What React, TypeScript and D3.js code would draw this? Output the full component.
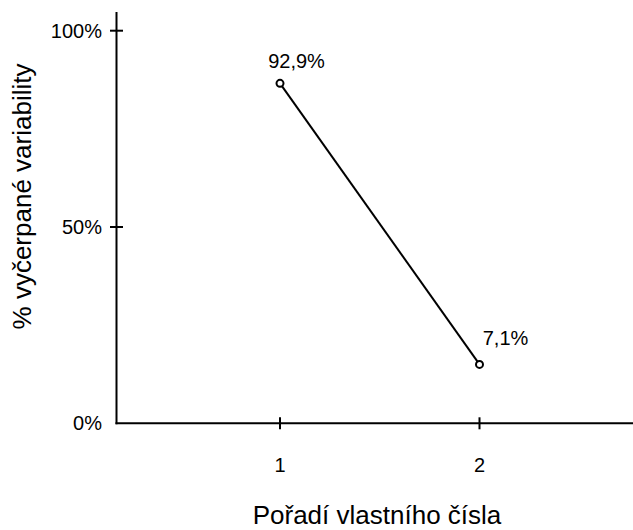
import React from 'react'
import * as d3 from 'd3'

// eigenvalue order, plotted share and printed labels
const components = [1, 2]
const plotted = [86.6, 15.0]
const pointLabels = ['92,9%', '7,1%']
const yTicks = [0, 50, 100]
const yTickLabels = ['0%', '50%', '100%']

const W = 633
const H = 530
const font = 'Liberation Sans, Arial, sans-serif'

// label nudges relative to each point
const labelDx = [16.5, 26]
const labelDy = [-15, -19]

const App = () => {
    const x = d3.scaleLinear().domain([1, 2]).range([280, 479.5])
    const y = d3.scaleLinear().domain([0, 100]).range([423.3, 30.7])
    const axisX = 116.5

    const line = d3
        .line<number>()
        .x((d, i) => x(components[i]))
        .y(d => y(d))

    return (
        <div style={{ position: 'absolute', left: 0, top: 0 }}>
            <svg width={W} height={H} style={{ display: 'block' }} fontFamily={font}>
                {/* axes */}
                <line x1={axisX} x2={axisX} y1={12} y2={y(0) + 1} stroke='#000' strokeWidth={2} />
                <line x1={axisX - 1} x2={W} y1={y(0)} y2={y(0)} stroke='#000' strokeWidth={2} />
                {yTicks.map((t, i) => (
                    <g key={t}>
                        {t > 0 && (
                            <line x1={axisX - 6.5} x2={axisX + 6.5} y1={y(t)} y2={y(t)} stroke='#000' strokeWidth={2} />
                        )}
                        <text x={102} y={y(t) + 7} textAnchor='end' fontSize={20} fill='#000'>
                            {yTickLabels[i]}
                        </text>
                    </g>
                ))}
                {components.map(c => (
                    <g key={c}>
                        <line x1={x(c)} x2={x(c)} y1={y(0) - 6} y2={y(0) + 6} stroke='#000' strokeWidth={2} />
                        <text x={x(c)} y={472} textAnchor='middle' fontSize={20} fill='#000'>
                            {c}
                        </text>
                    </g>
                ))}

                {/* titles */}
                <text
                    transform={`translate(31, 196.5) rotate(-90)`}
                    textAnchor='middle'
                    fontSize={26}
                    fill='#000'
                >
                    % vyčerpané variability
                </text>
                <text x={377} y={524} textAnchor='middle' fontSize={26} fill='#000'>
                    Pořadí vlastního čísla
                </text>

                {/* series */}
                <path d={line(plotted) || ''} fill='none' stroke='#000' strokeWidth={2} />
                {plotted.map((v, i) => (
                    <g key={i}>
                        <circle cx={x(components[i])} cy={y(v)} r={3.5} fill='#fff' stroke='#000' strokeWidth={2} />
                        <text
                            x={x(components[i]) + labelDx[i]}
                            y={y(v) + labelDy[i]}
                            textAnchor='middle'
                            fontSize={20}
                            fill='#000'
                        >
                            {pointLabels[i]}
                        </text>
                    </g>
                ))}
            </svg>
        </div>
    )
}

export default App
